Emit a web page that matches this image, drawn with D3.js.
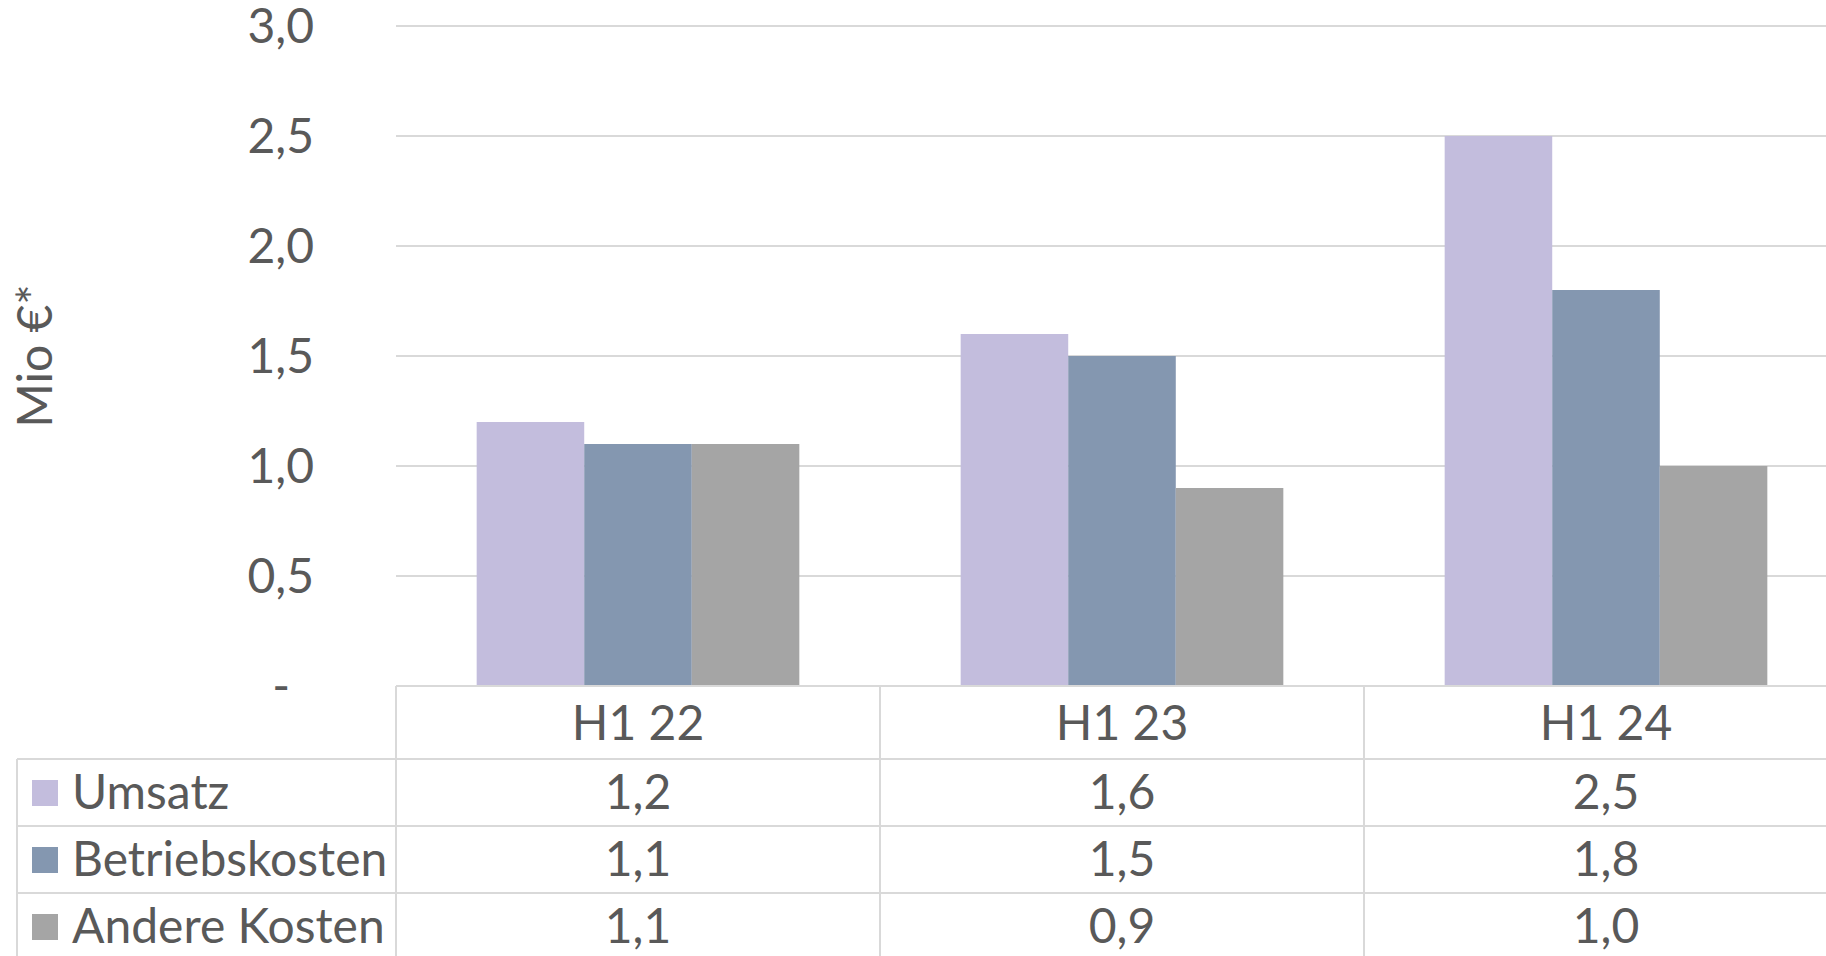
<!DOCTYPE html>
<meta charset="utf-8">
<head>
    <title>Umsatz und Kosten</title>
    <script type="text/javascript" src="https://cdn.jsdelivr.net/npm/d3@7"></script>
    <style>
        body { margin: 0; padding: 0; background: white; }
        svg { display: block; font-family: Lato, "Noto Sans", sans-serif; }
        text { fill: #595959; }
    </style>
</head>
<body>
<script>
    // Data
    const categories = ["H1 22", "H1 23", "H1 24"];
    const seriesNames = ["Umsatz", "Betriebskosten", "Andere Kosten"];
    const umsatz = [1.2, 1.6, 2.5];
    const betriebskosten = [1.1, 1.5, 1.8];
    const andereKosten = [1.1, 0.9, 1.0];
    const yTicks = [0, 0.5, 1.0, 1.5, 2.0, 2.5, 3.0];
    const colors = ["#c3bddd", "#8497b0", "#a5a5a5"];

    const seriesValues = [umsatz, betriebskosten, andereKosten];

    const width = 1826, height = 956;
    const plot = {left: 396, top: 26, bottom: 686, step: 484};
    const headerH = 73, rowH = 67;
    const fontSize = 48;
    const lineColor = "#d9d9d9";

    const svg = d3.select("body").append("svg")
        .attr("width", width)
        .attr("height", height);

    const de = d3.formatLocale({decimal: ",", thousands: ".", grouping: [3], currency: ["", "€"]});
    const fmt = v => v === 0 ? "-" : de.format(".1f")(v);

    const x = d3.scaleBand()
        .domain(categories)
        .range([plot.left, plot.left + plot.step * categories.length]);
    const xSub = d3.scaleBand()
        .domain(seriesNames)
        .range([x.bandwidth() / 6, x.bandwidth() * 5 / 6]);
    const y = d3.scaleLinear().domain([0, 3]).range([plot.bottom, plot.top]);

    // gridlines
    svg.append("g").selectAll("line")
        .data(yTicks.filter(d => d > 0))
        .join("line")
        .attr("x1", plot.left).attr("x2", width)
        .attr("y1", d => y(d)).attr("y2", d => y(d))
        .attr("stroke", lineColor).attr("stroke-width", 2);

    // y tick labels (zero shown as a dash, set in from the edge)
    svg.append("g").selectAll("text")
        .data(yTicks)
        .join("text")
        .attr("x", d => d === 0 ? 290 : 314)
        .attr("y", d => y(d) + 17)
        .attr("text-anchor", "end")
        .attr("font-size", fontSize)
        .text(fmt);

    // y axis title
    svg.append("text")
        .attr("transform", `translate(52, 356) rotate(-90)`)
        .attr("text-anchor", "middle")
        .attr("font-size", fontSize)
        .text("Mio €*");

    // bars
    const rows = seriesNames.map((name, i) => ({name, color: colors[i], values: seriesValues[i]}));
    svg.append("g").selectAll("g")
        .data(rows)
        .join("g")
        .attr("fill", d => d.color)
        .selectAll("rect")
        .data(d => d.values.map((v, j) => ({name: d.name, cat: categories[j], v})))
        .join("rect")
        .attr("x", d => x(d.cat) + xSub(d.name))
        .attr("width", xSub.bandwidth())
        .attr("y", d => y(d.v))
        .attr("height", d => y(0) - y(d.v));

    // data table
    const table = svg.append("g");
    const tableTop = plot.bottom;
    const tableBottom = tableTop + headerH + rowH * rows.length;

    table.append("line")
        .attr("x1", plot.left).attr("x2", width)
        .attr("y1", tableTop).attr("y2", tableTop)
        .attr("stroke", lineColor).attr("stroke-width", 2);

    table.selectAll(".hline")
        .data(rows.map((d, i) => tableTop + headerH + i * rowH))
        .join("line")
        .attr("class", "hline")
        .attr("x1", 17).attr("x2", width)
        .attr("y1", d => d).attr("y2", d => d)
        .attr("stroke", lineColor).attr("stroke-width", 2);

    table.selectAll(".vline")
        .data(categories)
        .join("line")
        .attr("class", "vline")
        .attr("x1", d => x(d)).attr("x2", d => x(d))
        .attr("y1", tableTop).attr("y2", tableBottom)
        .attr("stroke", lineColor).attr("stroke-width", 2);

    table.append("line")
        .attr("x1", 17).attr("x2", 17)
        .attr("y1", tableTop + headerH).attr("y2", tableBottom)
        .attr("stroke", lineColor).attr("stroke-width", 2);

    // header labels
    table.selectAll(".cat")
        .data(categories)
        .join("text")
        .attr("class", "cat")
        .attr("x", d => x(d) + x.bandwidth() / 2)
        .attr("y", tableTop + 54)
        .attr("text-anchor", "middle")
        .attr("font-size", fontSize)
        .text(d => d);

    // row legends and values
    const rowG = table.selectAll(".row")
        .data(rows)
        .join("g")
        .attr("class", "row")
        .attr("transform", (d, i) => `translate(0, ${tableTop + headerH + i * rowH})`);

    rowG.append("rect")
        .attr("x", 32).attr("y", 21)
        .attr("width", 26).attr("height", 26)
        .attr("fill", d => d.color);

    rowG.append("text")
        .attr("x", 72).attr("y", 50)
        .attr("font-size", fontSize)
        .text(d => d.name);

    rowG.selectAll(".val")
        .data(d => d.values.map((v, j) => ({cat: categories[j], v})))
        .join("text")
        .attr("class", "val")
        .attr("x", d => x(d.cat) + x.bandwidth() / 2)
        .attr("y", 50)
        .attr("text-anchor", "middle")
        .attr("font-size", fontSize)
        .text(d => fmt(d.v));
</script>
</body>
</html>
